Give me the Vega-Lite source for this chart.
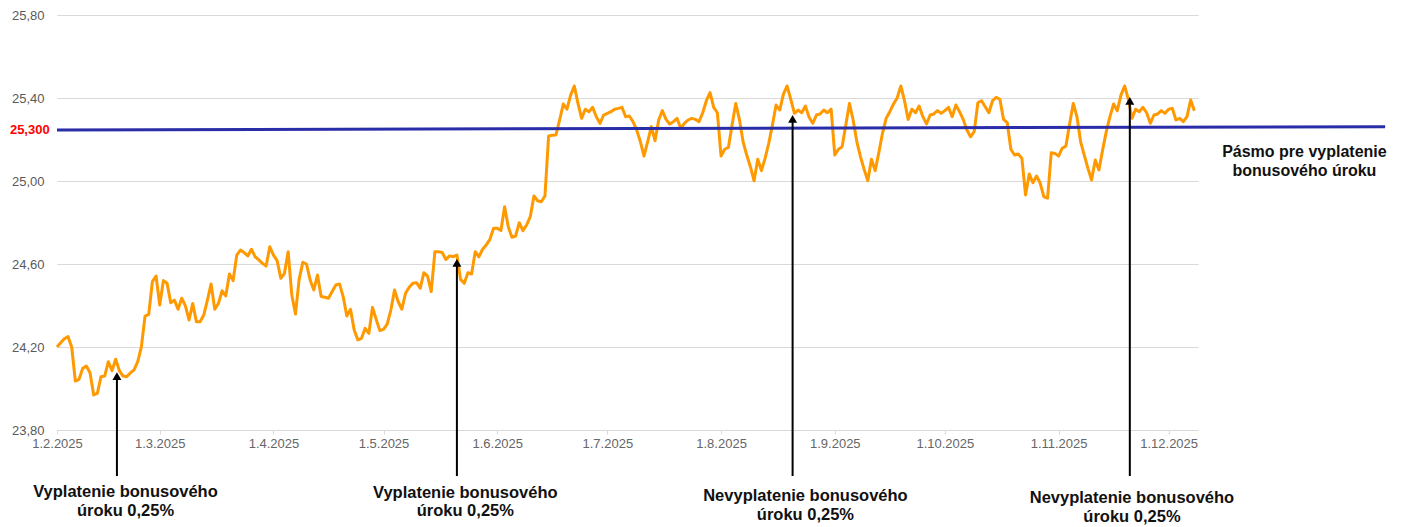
{
  "$schema": "https://vega.github.io/schema/vega-lite/v6.json",
  "width": 1141,
  "height": 415,
  "autosize": {"type": "none"},
  "padding": {"left": 57, "top": 15, "right": 206, "bottom": 97},
  "background": "white",
  "config": {"view": {"stroke": null}, "font": "Liberation Sans"},
  "datasets": {
    "rate": [
      {"d":"2025-02-01","v":24.20},{"d":"2025-02-02","v":24.22},{"d":"2025-02-03","v":24.24},{"d":"2025-02-04","v":24.25},{"d":"2025-02-05","v":24.20},{"d":"2025-02-06","v":24.036},{"d":"2025-02-07","v":24.044},{"d":"2025-02-08","v":24.097},{"d":"2025-02-09","v":24.108},{"d":"2025-02-10","v":24.076},{"d":"2025-02-11","v":23.969},{"d":"2025-02-12","v":23.977},{"d":"2025-02-13","v":24.057},{"d":"2025-02-14","v":24.06},{"d":"2025-02-15","v":24.129},{"d":"2025-02-16","v":24.086},{"d":"2025-02-17","v":24.141},{"d":"2025-02-18","v":24.086},{"d":"2025-02-19","v":24.06},{"d":"2025-02-20","v":24.057},{"d":"2025-02-21","v":24.075},{"d":"2025-02-22","v":24.09},{"d":"2025-02-23","v":24.129},{"d":"2025-02-24","v":24.201},{"d":"2025-02-25","v":24.349},{"d":"2025-02-26","v":24.357},{"d":"2025-02-27","v":24.515},{"d":"2025-02-28","v":24.542},
      {"d":"2025-03-01","v":24.402},{"d":"2025-03-02","v":24.52},{"d":"2025-03-03","v":24.507},{"d":"2025-03-04","v":24.413},{"d":"2025-03-05","v":24.426},{"d":"2025-03-06","v":24.382},{"d":"2025-03-07","v":24.435},{"d":"2025-03-08","v":24.398},{"d":"2025-03-09","v":24.33},{"d":"2025-03-10","v":24.41},{"d":"2025-03-11","v":24.322},{"d":"2025-03-12","v":24.322},{"d":"2025-03-13","v":24.354},{"d":"2025-03-14","v":24.426},{"d":"2025-03-15","v":24.504},{"d":"2025-03-16","v":24.382},{"d":"2025-03-17","v":24.41},{"d":"2025-03-18","v":24.471},{"d":"2025-03-19","v":24.446},{"d":"2025-03-20","v":24.552},{"d":"2025-03-21","v":24.52},{"d":"2025-03-22","v":24.643},{"d":"2025-03-23","v":24.667},{"d":"2025-03-24","v":24.655},{"d":"2025-03-25","v":24.639},{"d":"2025-03-26","v":24.671},{"d":"2025-03-27","v":24.635},{"d":"2025-03-28","v":24.62},{"d":"2025-03-29","v":24.603},{"d":"2025-03-30","v":24.59},{"d":"2025-03-31","v":24.683},
      {"d":"2025-04-01","v":24.643},{"d":"2025-04-02","v":24.616},{"d":"2025-04-03","v":24.531},{"d":"2025-04-04","v":24.555},{"d":"2025-04-05","v":24.659},{"d":"2025-04-06","v":24.451},{"d":"2025-04-07","v":24.359},{"d":"2025-04-08","v":24.526},{"d":"2025-04-09","v":24.608},{"d":"2025-04-10","v":24.60},{"d":"2025-04-11","v":24.523},{"d":"2025-04-12","v":24.475},{"d":"2025-04-13","v":24.547},{"d":"2025-04-14","v":24.443},{"d":"2025-04-15","v":24.44},{"d":"2025-04-16","v":24.435},{"d":"2025-04-17","v":24.467},{"d":"2025-04-18","v":24.499},{"d":"2025-04-19","v":24.504},{"d":"2025-04-20","v":24.443},{"d":"2025-04-21","v":24.349},{"d":"2025-04-22","v":24.382},{"d":"2025-04-23","v":24.282},{"d":"2025-04-24","v":24.234},{"d":"2025-04-25","v":24.242},{"d":"2025-04-26","v":24.29},{"d":"2025-04-27","v":24.266},{"d":"2025-04-28","v":24.391},{"d":"2025-04-29","v":24.333},{"d":"2025-04-30","v":24.279},
      {"d":"2025-05-01","v":24.285},{"d":"2025-05-02","v":24.31},{"d":"2025-05-03","v":24.378},{"d":"2025-05-04","v":24.475},{"d":"2025-05-05","v":24.418},{"d":"2025-05-06","v":24.382},{"d":"2025-05-07","v":24.459},{"d":"2025-05-08","v":24.488},{"d":"2025-05-09","v":24.507},{"d":"2025-05-10","v":24.51},{"d":"2025-05-11","v":24.483},{"d":"2025-05-12","v":24.558},{"d":"2025-05-13","v":24.542},{"d":"2025-05-14","v":24.467},{"d":"2025-05-15","v":24.659},{"d":"2025-05-16","v":24.659},{"d":"2025-05-17","v":24.655},{"d":"2025-05-18","v":24.622},{"d":"2025-05-19","v":24.639},{"d":"2025-05-20","v":24.635},{"d":"2025-05-21","v":24.643},{"d":"2025-05-22","v":24.526},{"d":"2025-05-23","v":24.507},{"d":"2025-05-24","v":24.558},{"d":"2025-05-25","v":24.552},{"d":"2025-05-26","v":24.659},{"d":"2025-05-27","v":24.635},{"d":"2025-05-28","v":24.671},{"d":"2025-05-29","v":24.692},{"d":"2025-05-30","v":24.719},{"d":"2025-05-31","v":24.772},
      {"d":"2025-06-01","v":24.772},{"d":"2025-06-02","v":24.761},{"d":"2025-06-03","v":24.876},{"d":"2025-06-04","v":24.78},{"d":"2025-06-05","v":24.729},{"d":"2025-06-06","v":24.735},{"d":"2025-06-07","v":24.799},{"d":"2025-06-08","v":24.761},{"d":"2025-06-09","v":24.788},{"d":"2025-06-10","v":24.828},{"d":"2025-06-11","v":24.928},{"d":"2025-06-12","v":24.905},{"d":"2025-06-13","v":24.90},{"d":"2025-06-14","v":24.928},{"d":"2025-06-15","v":25.217},{"d":"2025-06-16","v":25.22},{"d":"2025-06-17","v":25.222},{"d":"2025-06-18","v":25.294},{"d":"2025-06-19","v":25.371},{"d":"2025-06-20","v":25.346},{"d":"2025-06-21","v":25.414},{"d":"2025-06-22","v":25.458},{"d":"2025-06-23","v":25.374},{"d":"2025-06-24","v":25.302},{"d":"2025-06-25","v":25.346},{"d":"2025-06-26","v":25.334},{"d":"2025-06-27","v":25.355},{"d":"2025-06-28","v":25.31},{"d":"2025-06-29","v":25.278},{"d":"2025-06-30","v":25.318},
      {"d":"2025-07-01","v":25.326},{"d":"2025-07-02","v":25.334},{"d":"2025-07-03","v":25.346},{"d":"2025-07-04","v":25.35},{"d":"2025-07-05","v":25.355},{"d":"2025-07-06","v":25.31},{"d":"2025-07-07","v":25.313},{"d":"2025-07-08","v":25.286},{"d":"2025-07-09","v":25.246},{"d":"2025-07-10","v":25.19},{"d":"2025-07-11","v":25.12},{"d":"2025-07-12","v":25.19},{"d":"2025-07-13","v":25.262},{"d":"2025-07-14","v":25.194},{"d":"2025-07-15","v":25.294},{"d":"2025-07-16","v":25.339},{"d":"2025-07-17","v":25.297},{"d":"2025-07-18","v":25.275},{"d":"2025-07-19","v":25.286},{"d":"2025-07-20","v":25.302},{"d":"2025-07-21","v":25.254},{"d":"2025-07-22","v":25.278},{"d":"2025-07-23","v":25.294},{"d":"2025-07-24","v":25.302},{"d":"2025-07-25","v":25.297},{"d":"2025-07-26","v":25.286},{"d":"2025-07-27","v":25.329},{"d":"2025-07-28","v":25.387},{"d":"2025-07-29","v":25.426},{"d":"2025-07-30","v":25.355},{"d":"2025-07-31","v":25.329},
      {"d":"2025-08-01","v":25.12},{"d":"2025-08-02","v":25.153},{"d":"2025-08-03","v":25.162},{"d":"2025-08-04","v":25.27},{"d":"2025-08-05","v":25.374},{"d":"2025-08-06","v":25.297},{"d":"2025-08-07","v":25.19},{"d":"2025-08-08","v":25.125},{"d":"2025-08-09","v":25.069},{"d":"2025-08-10","v":25.001},{"d":"2025-08-11","v":25.105},{"d":"2025-08-12","v":25.05},{"d":"2025-08-13","v":25.109},{"d":"2025-08-14","v":25.182},{"d":"2025-08-15","v":25.27},{"d":"2025-08-16","v":25.366},{"d":"2025-08-17","v":25.342},{"d":"2025-08-18","v":25.419},{"d":"2025-08-19","v":25.458},{"d":"2025-08-20","v":25.394},{"d":"2025-08-21","v":25.326},{"d":"2025-08-22","v":25.342},{"d":"2025-08-23","v":25.329},{"d":"2025-08-24","v":25.361},{"d":"2025-08-25","v":25.307},{"d":"2025-08-26","v":25.278},{"d":"2025-08-27","v":25.318},{"d":"2025-08-28","v":25.323},{"d":"2025-08-29","v":25.342},{"d":"2025-08-30","v":25.329},{"d":"2025-08-31","v":25.346},
      {"d":"2025-09-01","v":25.125},{"d":"2025-09-02","v":25.153},{"d":"2025-09-03","v":25.165},{"d":"2025-09-04","v":25.27},{"d":"2025-09-05","v":25.374},{"d":"2025-09-06","v":25.294},{"d":"2025-09-07","v":25.19},{"d":"2025-09-08","v":25.117},{"d":"2025-09-09","v":25.056},{"d":"2025-09-10","v":25.001},{"d":"2025-09-11","v":25.105},{"d":"2025-09-12","v":25.05},{"d":"2025-09-13","v":25.136},{"d":"2025-09-14","v":25.23},{"d":"2025-09-15","v":25.302},{"d":"2025-09-16","v":25.334},{"d":"2025-09-17","v":25.371},{"d":"2025-09-18","v":25.40},{"d":"2025-09-19","v":25.458},{"d":"2025-09-20","v":25.387},{"d":"2025-09-21","v":25.297},{"d":"2025-09-22","v":25.346},{"d":"2025-09-23","v":25.329},{"d":"2025-09-24","v":25.361},{"d":"2025-09-25","v":25.31},{"d":"2025-09-26","v":25.275},{"d":"2025-09-27","v":25.318},{"d":"2025-09-28","v":25.323},{"d":"2025-09-29","v":25.339},{"d":"2025-09-30","v":25.326},
      {"d":"2025-10-01","v":25.339},{"d":"2025-10-02","v":25.355},{"d":"2025-10-03","v":25.31},{"d":"2025-10-04","v":25.366},{"d":"2025-10-05","v":25.334},{"d":"2025-10-06","v":25.297},{"d":"2025-10-07","v":25.246},{"d":"2025-10-08","v":25.213},{"d":"2025-10-09","v":25.238},{"d":"2025-10-10","v":25.377},{"d":"2025-10-11","v":25.387},{"d":"2025-10-12","v":25.358},{"d":"2025-10-13","v":25.329},{"d":"2025-10-14","v":25.387},{"d":"2025-10-15","v":25.403},{"d":"2025-10-16","v":25.394},{"d":"2025-10-17","v":25.297},{"d":"2025-10-18","v":25.281},{"d":"2025-10-19","v":25.153},{"d":"2025-10-20","v":25.125},{"d":"2025-10-21","v":25.13},{"d":"2025-10-22","v":25.109},{"d":"2025-10-23","v":24.933},{"d":"2025-10-24","v":25.034},{"d":"2025-10-25","v":24.992},{"d":"2025-10-26","v":25.024},{"d":"2025-10-27","v":24.989},{"d":"2025-10-28","v":24.924},{"d":"2025-10-29","v":24.917},{"d":"2025-10-30","v":25.136},{"d":"2025-10-31","v":25.133},
      {"d":"2025-11-01","v":25.12},{"d":"2025-11-02","v":25.158},{"d":"2025-11-03","v":25.169},{"d":"2025-11-04","v":25.275},{"d":"2025-11-05","v":25.374},{"d":"2025-11-06","v":25.31},{"d":"2025-11-07","v":25.19},{"d":"2025-11-08","v":25.125},{"d":"2025-11-09","v":25.061},{"d":"2025-11-10","v":25.005},{"d":"2025-11-11","v":25.101},{"d":"2025-11-12","v":25.053},{"d":"2025-11-13","v":25.149},{"d":"2025-11-14","v":25.238},{"d":"2025-11-15","v":25.31},{"d":"2025-11-16","v":25.371},{"d":"2025-11-17","v":25.339},{"d":"2025-11-18","v":25.414},{"d":"2025-11-19","v":25.458},{"d":"2025-11-20","v":25.394},{"d":"2025-11-21","v":25.302},{"d":"2025-11-22","v":25.346},{"d":"2025-11-23","v":25.334},{"d":"2025-11-24","v":25.355},{"d":"2025-11-25","v":25.329},{"d":"2025-11-26","v":25.278},{"d":"2025-11-27","v":25.318},{"d":"2025-11-28","v":25.323},{"d":"2025-11-29","v":25.339},{"d":"2025-11-30","v":25.326},
      {"d":"2025-12-01","v":25.346},{"d":"2025-12-02","v":25.35},{"d":"2025-12-03","v":25.294},{"d":"2025-12-04","v":25.302},{"d":"2025-12-05","v":25.286},{"d":"2025-12-06","v":25.31},{"d":"2025-12-07","v":25.39},{"d":"2025-12-08","v":25.339}
    ],
    "band": [
      {"d":"2025-02-01","v":25.246},
      {"d":"2026-01-29","v":25.262}
    ],
    "bandLabel": [
      {"d":"2025-01-30","v":25.246,"t":"25,300"}
    ],
    "arrows": [
      {"d":"2025-02-17T08:00:00Z","v":23.578,"v2":24.060},
      {"d":"2025-05-21T00:00:00Z","v":23.578,"v2":24.605},
      {"d":"2025-08-20T12:00:00Z","v":23.578,"v2":25.299},
      {"d":"2025-11-20T10:00:00Z","v":23.578,"v2":25.386}
    ],
    "notes": [
      {"d":"2025-02-19T16:00:00Z","v":23.501,"t":"Vyplatenie bonusového"},
      {"d":"2025-02-19T16:00:00Z","v":23.410,"t":"úroku 0,25%"},
      {"d":"2025-05-23T07:00:00Z","v":23.496,"t":"Vyplatenie bonusového"},
      {"d":"2025-05-23T07:00:00Z","v":23.410,"t":"úroku 0,25%"},
      {"d":"2025-08-24T00:00:00Z","v":23.482,"t":"Nevyplatenie bonusového"},
      {"d":"2025-08-24T00:00:00Z","v":23.390,"t":"úroku 0,25%"},
      {"d":"2025-11-21T00:00:00Z","v":23.472,"t":"Nevyplatenie bonusového"},
      {"d":"2025-11-21T00:00:00Z","v":23.381,"t":"úroku 0,25%"}
    ],
    "bandNote": [
      {"d":"2026-01-07T00:00:00Z","v":25.141,"t":"Pásmo pre vyplatenie"},
      {"d":"2026-01-07T00:00:00Z","v":25.050,"t":"bonusového úroku"}
    ]
  },
  "layer": [
    {
      "data": {"name": "rate"},
      "mark": {"type": "line", "color": "#FF9900", "strokeWidth": 3, "strokeJoin": "round"},
      "encoding": {
        "x": {
          "field": "d", "type": "temporal", "title": null,
          "scale": {"type": "utc", "domain": [1738368000000, 1765238400000]},
          "axis": {
            "format": "%-d.%-m.%Y",
            "tickCount": {"interval": "month", "step": 1},
            "labelFlush": false,
            "labelOverlap": false,
            "labelFont": "Liberation Sans",
            "labelFontSize": 13,
            "labelColor": "#666666",
            "labelPadding": 3,
            "domain": true,
            "domainColor": "#d9d9d9",
            "ticks": true,
            "tickColor": "#d9d9d9",
            "tickSize": 4,
            "grid": false
          }
        },
        "y": {
          "field": "v", "type": "quantitative", "title": null,
          "scale": {"domain": [23.8, 25.8], "nice": false, "zero": false},
          "axis": {
            "values": [23.8, 24.2, 24.6, 25.0, 25.4, 25.8],
            "labelExpr": "replace(format(datum.value, '.2f'), '.', ',')",
            "labelFont": "Liberation Sans",
            "labelFontSize": 13,
            "labelColor": "#595959",
            "labelPadding": 13,
            "ticks": false,
            "tickSize": 0,
            "domain": false,
            "grid": true,
            "gridColor": "#d9d9d9",
            "gridWidth": 1
          }
        }
      }
    },
    {
      "data": {"name": "band"},
      "mark": {"type": "line", "color": "#2A2DA8", "strokeWidth": 3},
      "encoding": {
        "x": {"field": "d", "type": "temporal", "title": null},
        "y": {"field": "v", "type": "quantitative", "title": null}
      }
    },
    {
      "data": {"name": "bandLabel"},
      "mark": {"type": "text", "color": "#FF0000", "fontWeight": "bold", "fontSize": 13, "font": "Liberation Sans", "align": "right", "baseline": "middle"},
      "encoding": {
        "x": {"field": "d", "type": "temporal", "title": null},
        "y": {"field": "v", "type": "quantitative", "title": null},
        "text": {"field": "t"}
      }
    },
    {
      "data": {"name": "arrows"},
      "mark": {"type": "rule", "color": "#000000", "strokeWidth": 2},
      "encoding": {
        "x": {"field": "d", "type": "temporal", "title": null},
        "y": {"field": "v", "type": "quantitative", "title": null},
        "y2": {"field": "v2"}
      }
    },
    {
      "data": {"name": "arrows"},
      "mark": {"type": "point", "shape": "triangle-up", "filled": true, "size": 80, "color": "#000000", "opacity": 1},
      "encoding": {
        "x": {"field": "d", "type": "temporal", "title": null},
        "y": {"field": "v2", "type": "quantitative", "title": null}
      }
    },
    {
      "data": {"name": "notes"},
      "mark": {"type": "text", "color": "#111111", "fontWeight": "bold", "fontSize": 16.5, "font": "Liberation Sans", "align": "center", "baseline": "middle"},
      "encoding": {
        "x": {"field": "d", "type": "temporal", "title": null},
        "y": {"field": "v", "type": "quantitative", "title": null},
        "text": {"field": "t"}
      }
    },
    {
      "data": {"name": "bandNote"},
      "mark": {"type": "text", "color": "#111111", "fontWeight": "bold", "fontSize": 16, "font": "Liberation Sans", "align": "center", "baseline": "middle"},
      "encoding": {
        "x": {"field": "d", "type": "temporal", "title": null},
        "y": {"field": "v", "type": "quantitative", "title": null},
        "text": {"field": "t"}
      }
    }
  ]
}
